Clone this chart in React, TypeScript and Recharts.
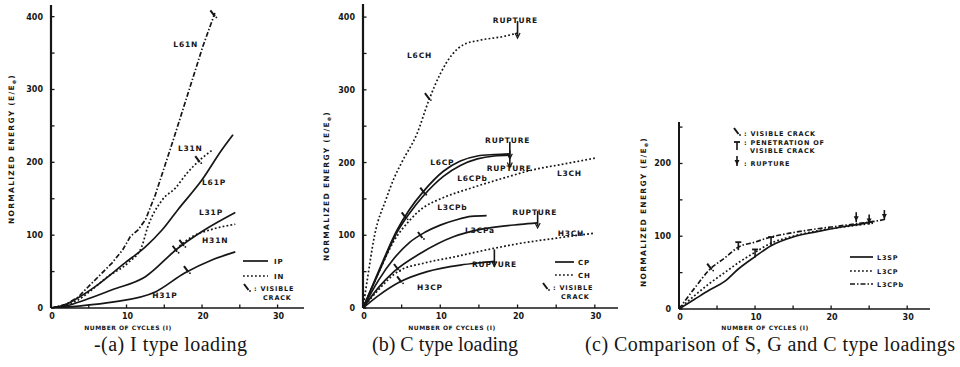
import React from 'react';
import { LineChart, Line, XAxis, YAxis, ReferenceDot, Legend } from 'recharts';

// ---------------- (a) I type loading ----------------
const l61nCycles = [0, 2, 3.6, 5.4, 8.1, 9.5, 10.5, 11.5, 12.5, 13.8, 16.2, 18, 20.1, 21.7];
const l61nEnergy = [0, 5, 15, 34, 62, 80, 98, 107, 121, 155, 231, 290, 359, 405];
const l31nCycles = [0, 2, 3.6, 5.4, 7.5, 10.2, 12, 12.8, 14.7, 16.5, 18, 19.7, 21.5];
const l31nEnergy = [0, 4, 11, 25, 43, 62, 84, 111, 148, 165, 185, 203, 218];
const l61pCycles = [0, 2, 3.6, 5.8, 9.8, 12.5, 14.7, 16.8, 20, 22.6, 24.1];
const l61pEnergy = [0, 5, 14, 29, 62, 84, 107, 135, 176, 217, 238];
const l31pCycles = [0, 2, 4.5, 8.1, 12.5, 16.8, 20, 24.4];
const l31pEnergy = [0, 3, 11, 25, 43, 82, 105, 131];
const h31nCycles = [17, 18.7, 21.3, 24.4];
const h31nEnergy = [85, 98, 108, 115];
const h31pCycles = [0, 4, 8.1, 13.8, 17.7, 21.3, 24.4];
const h31pEnergy = [0, 3, 8, 22, 48, 66, 77];

// ---------------- (b) C type loading ----------------
const l6chCycles = [0, 0.5, 1.5, 3, 4, 5, 7, 8.5, 10, 11.5, 13, 15, 18, 20];
const l6chEnergy = [0, 35, 100, 150, 178, 200, 240, 285, 322, 348, 362, 368, 373, 378];
const l6cpCycles = [0, 2, 4.4, 6, 7.8, 10.4, 12.6, 14.8, 17, 19];
const l6cpEnergy = [0, 50, 107, 135, 160, 188, 202, 209, 211, 212];
const l6cpbCycles = [0, 2, 4.4, 6, 7.8, 10.4, 12.6, 14.8, 17, 19];
const l6cpbEnergy = [0, 48, 104, 130, 154, 181, 196, 205, 209, 210];
const l3chCycles = [0, 2, 4, 6, 7.8, 10, 14, 18, 22, 26, 30];
const l3chEnergy = [0, 48, 92, 120, 138, 150, 165, 178, 190, 198, 206];
const l3cpbCycles = [0, 2, 4, 6, 8, 10, 12, 14, 16];
const l3cpbEnergy = [0, 38, 68, 90, 104, 114, 121, 126, 127];
const l3cpaCycles = [0, 2, 4, 7.4, 11.7, 15.2, 20.4, 22.6];
const l3cpaEnergy = [0, 28, 50, 75, 98, 108, 115, 117];
const h3chCycles = [0, 2, 4.5, 8, 11.7, 16, 20.4, 25, 30];
const h3chEnergy = [0, 25, 50, 62, 70, 80, 89, 96, 103];
const h3cpCycles = [0, 2, 4.8, 8.3, 12.6, 15, 17];
const h3cpEnergy = [0, 17, 36, 50, 59, 62, 64];

// ---------------- (c) comparison ----------------
const l3spCycles = [0, 2, 4, 6, 7.8, 10, 12.1, 15, 18, 21, 24, 25.5];
const l3spEnergy = [0, 13, 26, 38, 55, 72, 87, 99, 106, 112, 117, 120];
const l3cpCycles = [0, 2, 4, 6, 8, 10, 12, 15, 18, 21, 24, 25.5];
const l3cpEnergy = [0, 18, 35, 50, 65, 78, 90, 100, 107, 112, 116, 118];
const l3cpbCCycles = [0, 2, 4.1, 6, 7.8, 10, 12.1, 15, 18, 21, 24, 26, 27];
const l3cpbCEnergy = [0, 28, 55, 70, 85, 92, 99, 105, 110, 114, 118, 121, 123];

// ---------------- ticks ----------------
const xTicks = [0, 5, 10, 15, 20, 25, 30];
const yTicksAB = [0, 50, 100, 150, 200, 250, 300, 350, 400];
const yTicksC = [0, 50, 100, 150, 200, 250];

// ---------------- annotations (data coordinates) ----------------
const labelsA = [
  { text: 'L61N', c: 16.2, e: 358 },
  { text: 'L31N', c: 16.8, e: 216 },
  { text: 'L61P', c: 20, e: 169 },
  { text: 'L31P', c: 19.6, e: 128 },
  { text: 'H31N', c: 20, e: 89 },
  { text: 'H31P', c: 13.4, e: 14 },
];
const cracksA = [
  { c: 21.5, e: 403 },
  { c: 19.5, e: 203 },
  { c: 16.5, e: 80 },
  { c: 17.4, e: 88 },
  { c: 18, e: 52 },
];
const labelsB = [
  { text: 'RUPTURE', c: 16.8, e: 392 },
  { text: 'L6CH', c: 5.7, e: 344 },
  { text: 'RUPTURE', c: 15.8, e: 227 },
  { text: 'L6CP', c: 8.7, e: 197 },
  { text: 'RUPTURE', c: 16, e: 188 },
  { text: 'L6CPb', c: 12.2, e: 175 },
  { text: 'L3CH', c: 25.1, e: 181 },
  { text: 'L3CPb', c: 9.6, e: 135 },
  { text: 'RUPTURE', c: 19.3, e: 128 },
  { text: 'L3CPa', c: 13.2, e: 103 },
  { text: 'H3CH', c: 25.2, e: 99 },
  { text: 'RUPTURE', c: 14.1, e: 57 },
  { text: 'H3CP', c: 7, e: 25 },
];
const cracksB = [
  { c: 8.4, e: 290 },
  { c: 7.8, e: 160 },
  { c: 5.4, e: 126 },
  { c: 7.5, e: 99 },
  { c: 4.4, e: 55 },
  { c: 4.8, e: 38 },
];
const rupturesB = [
  { c: 20, e: 378 },
  { c: 19, e: 212 },
  { c: 19, e: 200 },
  { c: 22.6, e: 117 },
  { c: 17, e: 64 },
];
const cracksC = [{ c: 4.1, e: 57 }];
const penetrationsC = [
  { c: 7.8, e: 85 },
  { c: 10, e: 75 },
  { c: 12.1, e: 92 },
];
const rupturesC = [
  { c: 23.3, e: 122 },
  { c: 25, e: 119 },
  { c: 27, e: 125 },
];

// ---------------- styling ----------------
const INK = '#161616';
const FONT = '"DejaVu Sans", Verdana, sans-serif';
const SERIF = '"Liberation Serif", "Times New Roman", serif';
const DOT = '1.8 2.2';
const DASHDOT = '5 2 1.5 2';
const LW = 1.7;

const mk = (c: number[], e: number[]) => c.map((v, i) => ({ c: v, e: e[i] }));

const XTick = (props: any) => {
  const { x, y, payload } = props;
  const v = payload.value;
  return (
    <g>
      <line x1={x} x2={x} y1={y} y2={y - 3.5} stroke={INK} strokeWidth={1.3} />
      {v % 10 === 0 && (
        <text x={x + 1} y={y + 11} textAnchor="middle" fontFamily={FONT} fontWeight="bold" fontSize={8} fill={INK}>
          {v}
        </text>
      )}
    </g>
  );
};

const YTick = (props: any) => {
  const { x, y, payload } = props;
  const v = payload.value;
  return (
    <g>
      <line x1={x} x2={x + 3.5} y1={y} y2={y} stroke={INK} strokeWidth={1.3} />
      {v % 100 === 0 && (
        <text x={x - 8} y={y + 3} textAnchor="end" fontFamily={FONT} fontWeight="bold" fontSize={8} fill={INK}>
          {v}
        </text>
      )}
    </g>
  );
};

const textShape = (label: string) => (p: any) => (
  <text x={p.cx} y={p.cy} fontFamily={FONT} fontWeight="bold" fontSize={7.5} letterSpacing={0.8} fill={INK}>
    {label}
  </text>
);

const crackShape = (p: any) => (
  <g>
    <line x1={p.cx - 3} y1={p.cy - 4} x2={p.cx + 1.5} y2={p.cy + 2} stroke={INK} strokeWidth={2} />
    <circle cx={p.cx + 3} cy={p.cy + 3} r={0.9} fill={INK} />
  </g>
);

const ruptureShape = (p: any) => (
  <g>
    <line x1={p.cx} y1={p.cy - 12} x2={p.cx} y2={p.cy + 3} stroke={INK} strokeWidth={1.6} />
    <path d={`M${p.cx - 2.5},${p.cy} L${p.cx},${p.cy + 5} L${p.cx + 2.5},${p.cy}`} stroke={INK} strokeWidth={1.2} fill="none" />
  </g>
);

const penetrationShape = (p: any) => (
  <g>
    <line x1={p.cx - 3} y1={p.cy - 5} x2={p.cx + 3} y2={p.cy - 5} stroke={INK} strokeWidth={1.8} />
    <line x1={p.cx} y1={p.cy - 5} x2={p.cx} y2={p.cy + 3} stroke={INK} strokeWidth={1.6} />
  </g>
);

const ruptureFilledShape = (p: any) => (
  <g>
    <line x1={p.cx} y1={p.cy - 8} x2={p.cx} y2={p.cy + 2} stroke={INK} strokeWidth={1.6} />
    <path d={`M${p.cx - 2.5},${p.cy - 4} L${p.cx},${p.cy + 1} L${p.cx + 2.5},${p.cy - 4} Z`} fill={INK} />
  </g>
);

const txt = (x: number, y: number, s: string, size = 7) => (
  <text x={x} y={y} fontFamily={FONT} fontWeight="bold" fontSize={size} letterSpacing={0.8} fill={INK}>
    {s}
  </text>
);

const LegendA = () => (
  <svg width={80} height={54}>
    <line x1={7} x2={32} y1={9} y2={9} stroke={INK} strokeWidth={LW} />
    {txt(38, 12, 'IP')}
    <line x1={7} x2={32} y1={24} y2={24} stroke={INK} strokeWidth={LW} strokeDasharray={DOT} />
    {txt(38, 27, 'IN')}
    {crackShape({ cx: 11, cy: 36 })}
    {txt(18, 39, ': VISIBLE', 6.5)}
    {txt(27, 47.5, 'CRACK', 6.5)}
  </svg>
);

const LegendB = () => (
  <svg width={80} height={54}>
    <line x1={15} x2={34} y1={10} y2={10} stroke={INK} strokeWidth={LW} />
    {txt(38, 13, 'CP')}
    <line x1={15} x2={34} y1={23} y2={23} stroke={INK} strokeWidth={LW} strokeDasharray={DOT} />
    {txt(38, 26, 'CH')}
    {crackShape({ cx: 6, cy: 35 })}
    {txt(13, 38, ': VISIBLE', 6.5)}
    {txt(21, 46.5, 'CRACK', 6.5)}
  </svg>
);

const LegendC = () => (
  <svg width={210} height={170}>
    {crackShape({ cx: 7, cy: 10 })}
    {txt(14, 14, ': VISIBLE CRACK', 6.5)}
    {penetrationShape({ cx: 7, cy: 25 })}
    {txt(14, 23, ': PENETRATION OF', 6.5)}
    {txt(20, 31, 'VISIBLE CRACK', 6.5)}
    {ruptureFilledShape({ cx: 7, cy: 42 })}
    {txt(14, 44, ': RUPTURE', 6.5)}
    <line x1={120} x2={143} y1={135} y2={135} stroke={INK} strokeWidth={LW} />
    {txt(147, 138, 'L3SP', 6.5)}
    <line x1={120} x2={143} y1={149} y2={149} stroke={INK} strokeWidth={LW} strokeDasharray={DOT} />
    {txt(147, 152, 'L3CP', 6.5)}
    <line x1={120} x2={143} y1={162} y2={162} stroke={INK} strokeWidth={LW} strokeDasharray={DASHDOT} />
    {txt(147, 165, 'L3CPb', 6.5)}
  </svg>
);

const axisCommon = {
  type: 'number' as const,
  interval: 0 as const,
  tickLine: false,
  tickSize: 0,
  tickMargin: 0,
  allowDataOverflow: true,
};

const series = (key: string, c: number[], e: number[], dash?: string, type: any = 'monotone', w = LW) => (
  <Line
    key={key}
    name={key}
    data={mk(c, e)}
    dataKey="e"
    type={type}
    stroke={INK}
    strokeWidth={w}
    strokeDasharray={dash}
    dot={false}
    activeDot={false}
    isAnimationActive={false}
    legendType="none"
  />
);

export default function App() {
  return (
    <div style={{ position: 'absolute', left: 0, top: 0, width: 960, height: 367, background: '#fff', overflow: 'hidden' }}>
      {/* (a) */}
      <div style={{ position: 'absolute', left: 0, top: 0 }}>
        <LineChart width={320} height={340} margin={{ top: 5, right: 16, bottom: 0, left: 0 }}>
          <XAxis {...axisCommon} dataKey="c" domain={[0, 33.5]} ticks={xTicks} height={32} tick={XTick} axisLine={{ stroke: INK, strokeWidth: 1.6 }} />
          <YAxis {...axisCommon} domain={[0, 416]} ticks={yTicksAB} width={51} tick={YTick} axisLine={{ stroke: INK, strokeWidth: 2.2 }} />
          {series('L61N', l61nCycles, l61nEnergy, DASHDOT, 'linear')}
          {series('L31N', l31nCycles, l31nEnergy, DOT)}
          {series('L61P', l61pCycles, l61pEnergy)}
          {series('L31P', l31pCycles, l31pEnergy)}
          {series('H31N', h31nCycles, h31nEnergy, DOT)}
          {series('H31P', h31pCycles, h31pEnergy)}
          {labelsA.map((l, i) => (
            <ReferenceDot key={'la' + i} x={l.c} y={l.e} r={0} ifOverflow="visible" shape={textShape(l.text)} />
          ))}
          {cracksA.map((m, i) => (
            <ReferenceDot key={'ca' + i} x={m.c} y={m.e} r={0} ifOverflow="visible" shape={crackShape} />
          ))}
          <Legend layout="horizontal" verticalAlign="middle" align="center" content={() => <LegendA />} wrapperStyle={{ left: 236, top: 252, width: 80, height: 54 }} />
        </LineChart>
      </div>

      {/* (b) */}
      <div style={{ position: 'absolute', left: 320, top: 0 }}>
        <LineChart width={310} height={340} margin={{ top: 4, right: 12, bottom: 0, left: 0 }}>
          <XAxis {...axisCommon} dataKey="c" domain={[0, 33]} ticks={xTicks} height={32} tick={XTick} axisLine={{ stroke: INK, strokeWidth: 1.6 }} />
          <YAxis {...axisCommon} domain={[0, 418]} ticks={yTicksAB} width={43} tick={YTick} axisLine={{ stroke: INK, strokeWidth: 2.2 }} />
          {series('L6CH', l6chCycles, l6chEnergy, DOT)}
          {series('L6CP', l6cpCycles, l6cpEnergy)}
          {series('L6CPb', l6cpbCycles, l6cpbEnergy)}
          {series('L3CH', l3chCycles, l3chEnergy, DOT)}
          {series('L3CPb', l3cpbCycles, l3cpbEnergy)}
          {series('L3CPa', l3cpaCycles, l3cpaEnergy)}
          {series('H3CH', h3chCycles, h3chEnergy, DOT)}
          {series('H3CP', h3cpCycles, h3cpEnergy)}
          {labelsB.map((l, i) => (
            <ReferenceDot key={'lb' + i} x={l.c} y={l.e} r={0} ifOverflow="visible" shape={textShape(l.text)} />
          ))}
          {cracksB.map((m, i) => (
            <ReferenceDot key={'cb' + i} x={m.c} y={m.e} r={0} ifOverflow="visible" shape={crackShape} />
          ))}
          {rupturesB.map((m, i) => (
            <ReferenceDot key={'rb' + i} x={m.c} y={m.e} r={0} ifOverflow="visible" shape={ruptureShape} />
          ))}
          <Legend layout="horizontal" verticalAlign="middle" align="center" content={() => <LegendB />} wrapperStyle={{ left: 220, top: 252, width: 80, height: 54 }} />
        </LineChart>
      </div>

      {/* (c) */}
      <div style={{ position: 'absolute', left: 640, top: 0 }}>
        <LineChart width={320} height={340} margin={{ top: 122, right: 30, bottom: 0, left: 0 }}>
          <XAxis {...axisCommon} dataKey="c" domain={[0, 33]} ticks={xTicks} height={31} tick={XTick} axisLine={{ stroke: INK, strokeWidth: 1.6 }} />
          <YAxis {...axisCommon} domain={[0, 257]} ticks={yTicksC} width={39} tick={YTick} axisLine={{ stroke: INK, strokeWidth: 2 }} />
          {series('L3SP', l3spCycles, l3spEnergy)}
          {series('L3CP', l3cpCycles, l3cpEnergy, DOT)}
          {series('L3CPb', l3cpbCCycles, l3cpbCEnergy, DASHDOT)}
          {cracksC.map((m, i) => (
            <ReferenceDot key={'cc' + i} x={m.c} y={m.e} r={0} ifOverflow="visible" shape={crackShape} />
          ))}
          {penetrationsC.map((m, i) => (
            <ReferenceDot key={'pc' + i} x={m.c} y={m.e} r={0} ifOverflow="visible" shape={penetrationShape} />
          ))}
          {rupturesC.map((m, i) => (
            <ReferenceDot key={'rc' + i} x={m.c} y={m.e} r={0} ifOverflow="visible" shape={ruptureFilledShape} />
          ))}
          <Legend layout="horizontal" verticalAlign="middle" align="center" content={() => <LegendC />} wrapperStyle={{ left: 90, top: 122, width: 210, height: 170 }} />
        </LineChart>
      </div>

      {/* titles and captions */}
      <svg width={960} height={367} style={{ position: 'absolute', left: 0, top: 0, pointerEvents: 'none' }}>
        {[
          { x: 14, y: 149 },
          { x: 329, y: 186 },
          { x: 646, y: 212 },
        ].map((p, i) => (
          <text key={'yt' + i} transform={`translate(${p.x},${p.y}) rotate(-90)`} textAnchor="middle" fontFamily={FONT} fontWeight="bold" fontSize={7.5} letterSpacing={1.3} fill={INK}>
            NORMALIZED ENERGY (E/E<tspan fontSize={6} dy={2}>e</tspan>
            <tspan dy={-2}>)</tspan>
          </text>
        ))}
        {[128, 452, 765].map((x, i) => (
          <text key={'xt' + i} x={x} y={330} textAnchor="middle" fontFamily={FONT} fontWeight="bold" fontSize={6} letterSpacing={0.5} fill={INK}>
            NUMBER OF CYCLES (I)
          </text>
        ))}
        <text x={94} y={351} fontFamily={SERIF} fontSize={20} fill={INK} textLength={153} lengthAdjust="spacing">-(a) I type loading</text>
        <text x={372} y={351} fontFamily={SERIF} fontSize={20} fill={INK} textLength={146} lengthAdjust="spacing">(b) C type loading</text>
        <text x={585} y={351} fontFamily={SERIF} fontSize={20} fill={INK} textLength={370} lengthAdjust="spacing">(c) Comparison of S, G and C type loadings</text>
      </svg>
    </div>
  );
}
